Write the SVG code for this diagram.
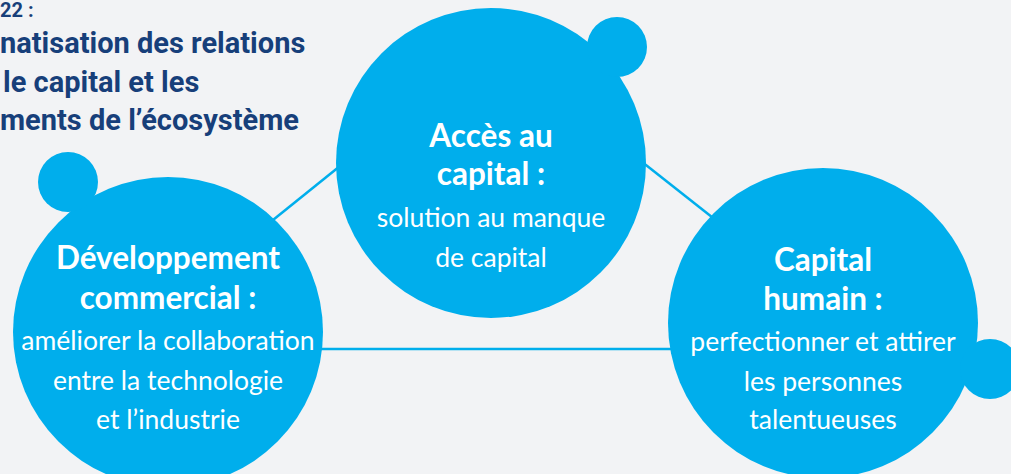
<svg xmlns="http://www.w3.org/2000/svg" width="1011" height="474" viewBox="0 0 1011 474">
  <style>
    .bg { fill: #F2F3F5; }
    .bubble { fill: #00AEEC; }
    .link { stroke: #00AEEC; stroke-width: 2.5; fill: none; }
    .title { font-family: "Roboto", "Liberation Sans", sans-serif; font-weight: 700; font-size: 29px; fill: #173F7A; }
    .title-sm { font-size: 20px; }
    .head { font-family: "Lato", "Liberation Sans", sans-serif; font-weight: 700; font-size: 31.5px; fill: #FFFFFF; text-anchor: middle; }
    .body { font-family: "Lato", "Liberation Sans", sans-serif; font-weight: 400; font-size: 26.5px; fill: #FFFFFF; text-anchor: middle; }
  </style>
  <rect class="bg" x="0" y="0" width="1011" height="474"/>

  <!-- heading block, running in from the left page edge -->
  <g id="title">
    <text class="title title-sm" x="0" y="17">22 :</text>
    <text class="title" x="0" y="53">natisation des relations</text>
    <text class="title" x="3" y="92">le capital et les</text>
    <text class="title" x="0" y="130">ments de l’écosystème</text>
  </g>

  <!-- connectors between the three bubbles -->
  <g id="connectors">
    <line class="link" x1="268" y1="224" x2="345" y2="162"/>
    <line class="link" x1="632" y1="154" x2="722" y2="225"/>
    <line class="link" x1="310" y1="349" x2="684" y2="349"/>
  </g>

  <g id="node-commercial">
    <circle class="bubble" cx="168" cy="332" r="155"/>
    <circle class="bubble" cx="68" cy="182" r="30"/>
    <text class="head" x="168" y="269">Développement</text>
    <text class="head" x="168" y="309">commercial :</text>
    <text class="body" x="168" y="350">améliorer la collaboration</text>
    <text class="body" x="168" y="390">entre la technologie</text>
    <text class="body" x="168" y="429">et l’industrie</text>
  </g>

  <g id="node-capital">
    <circle class="bubble" cx="491" cy="163" r="155"/>
    <circle class="bubble" cx="617" cy="47" r="30"/>
    <text class="head" x="491" y="147">Accès au</text>
    <text class="head" x="491" y="185">capital :</text>
    <text class="body" x="491" y="227">solution au manque</text>
    <text class="body" x="491" y="267">de capital</text>
  </g>

  <g id="node-humain">
    <circle class="bubble" cx="823" cy="323" r="155"/>
    <circle class="bubble" cx="990" cy="369" r="30"/>
    <text class="head" x="823" y="271">Capital</text>
    <text class="head" x="823" y="310">humain :</text>
    <text class="body" x="823" y="351">perfectionner et attirer</text>
    <text class="body" x="823" y="391">les personnes</text>
    <text class="body" x="823" y="429">talentueuses</text>
  </g>
</svg>
